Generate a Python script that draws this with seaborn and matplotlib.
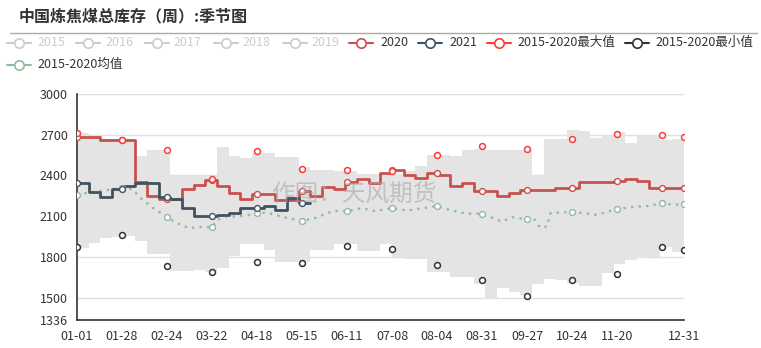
import numpy as np
import pandas as pd
import matplotlib
matplotlib.use("Agg")
import matplotlib.pyplot as plt
from matplotlib.lines import Line2D
import seaborn as sns

sns.set_theme(style="white")
plt.rcParams['font.family'] = ['Noto Sans CJK SC', 'DejaVu Sans']

# ---------------- data (weekly) ----------------
tick_days = [0, 27, 54, 81, 108, 135, 162, 189, 216, 243, 270, 297, 324, 364]
tick_labels = ["01-01", "01-28", "02-24", "03-22", "04-18", "05-15", "06-11",
               "07-08", "08-04", "08-31", "09-27", "10-24", "11-20", "12-31"]
marker_days = [0, 27, 54, 81, 108, 135, 162, 189, 216, 243, 270, 297, 324, 351, 364]

y2020 = [2680, 2680, 2663, 2663, 2663, 2355, 2252, 2228, 2228, 2299, 2331, 2368, 2320,
         2272, 2224, 2265, 2265, 2221, 2221, 2289, 2250, 2314, 2304, 2355, 2375, 2348,
         2415, 2441, 2400, 2380, 2418, 2404, 2326, 2348, 2285, 2287, 2252, 2274, 2294,
         2294, 2294, 2308, 2311, 2350, 2350, 2352, 2362, 2375, 2362, 2311, 2311, 2311]

y2021 = [2345, 2275, 2240, 2302, 2320, 2343, 2343, 2245, 2228, 2162, 2102, 2102, 2112,
         2125, 2164, 2164, 2172, 2147, 2233, 2195]

band_upper = [2712, 2690, 2672, 2672, 2672, 2541, 2590, 2590, 2395, 2395, 2395, 2395, 2607,
              2541, 2530, 2566, 2566, 2537, 2537, 2461, 2444, 2444, 2432, 2432, 2412, 2412,
              2412, 2412, 2432, 2468, 2554, 2554, 2541, 2590, 2597, 2590, 2590, 2590, 2590,
              2407, 2671, 2671, 2737, 2724, 2676, 2688, 2720, 2639, 2688, 2688, 2663, 2671]

band_lower = [1868, 1905, 1940, 1945, 1956, 1914, 1822, 1822, 1700, 1700, 1707, 1687, 1720,
              1810, 1895, 1895, 1851, 1761, 1761, 1761, 1851, 1851, 1895, 1895, 1846, 1846,
              1895, 1797, 1785, 1785, 1688, 1688, 1651, 1651, 1602, 1492, 1575, 1540, 1520,
              1600, 1635, 1630, 1610, 1590, 1590, 1685, 1745, 1780, 1795, 1800, 1877, 1840]

max_vals = [2712, 2663, 2590, 2371, 2578, 2449, 2439, 2432, 2549, 2615, 2598, 2671, 2707, 2695, 2680]
min_vals = [1871, 1963, 1737, 1688, 1766, 1754, 1883, 1859, 1741, 1634, 1512, 1632, 1673, 1873, 1849]

mean_days = [0, 7, 14, 20, 27, 33, 39, 45, 54, 59, 67, 75, 81, 84, 90, 97, 103, 108, 114,
             124, 135, 143, 154, 162, 171, 179, 189, 198, 208, 216, 224, 233, 243, 255, 261,
             270, 274, 278, 282, 284, 297, 304, 312, 324, 333, 343, 351, 358, 364]
mean_vals = [2256, 2275, 2285, 2295, 2310, 2300, 2225, 2165, 2095, 2055, 2012, 2022, 2018,
             2072, 2100, 2098, 2110, 2123, 2127, 2093, 2066, 2088, 2140, 2137, 2160, 2137,
             2160, 2142, 2160, 2176, 2145, 2120, 2118, 2061, 2093, 2078, 2085, 2015, 2025,
             2123, 2132, 2122, 2110, 2154, 2167, 2176, 2196, 2184, 2191]

# ---------------- styles ----------------
C2020 = "#c8504d"
C2021 = "#3f5262"
CMAX = "#ff3b3b"
CMIN = "#333333"
CMEAN = "#93ba9f"
CBAND = "#e4e4e4"
CINACT = "#cccccc"

W, H = 761, 348
fig = plt.figure(figsize=(W / 100, H / 100), dpi=100)
ax = fig.add_axes([77 / W, 1 - 320 / H, (683.7 - 77) / W, (320 - 94) / H])

def week_frame(vals):
    days = np.arange(len(vals) + 1) * 7
    v = list(vals) + [vals[-1]]
    return pd.DataFrame({"day": days, "value": v})

# band
bu = week_frame(band_upper)
bl = week_frame(band_lower)
ax.fill_between(bu["day"], bl["value"], bu["value"], step="post",
                color=CBAND, linewidth=0, zorder=1)

# grid
for yv in [1500, 1800, 2100, 2400, 2700, 3000]:
    ax.axhline(yv, color="#e0e0e0", linewidth=1, zorder=0.5)

# mean (dotted)
dm = pd.DataFrame({"day": mean_days, "value": mean_vals})
sns.lineplot(data=dm, x="day", y="value", ax=ax, color=CMEAN, linewidth=1.7,
             linestyle=(0, (1, 2.2)), zorder=3, sort=False)
dmm = dm[dm["day"].isin(marker_days)]
ax.scatter(dmm["day"], dmm["value"], s=18, facecolor="white", edgecolor=CMEAN,
           linewidth=1.0, zorder=6)

# 2020
d20 = week_frame(y2020)
sns.lineplot(data=d20, x="day", y="value", ax=ax, color=C2020, linewidth=2,
             drawstyle="steps-post", zorder=4, sort=False)
m20 = [y2020[min(d // 7, len(y2020) - 1)] for d in marker_days]
ax.scatter(marker_days, m20, s=18, facecolor="white", edgecolor=C2020,
           linewidth=1.0, zorder=7)

# 2021
d21 = week_frame(y2021)
sns.lineplot(data=d21, x="day", y="value", ax=ax, color=C2021, linewidth=2,
             drawstyle="steps-post", zorder=5, sort=False)
md21 = [d for d in marker_days if d < len(y2021) * 7]
m21 = [y2021[d // 7] for d in md21]
ax.scatter(md21, m21, s=18, facecolor="white", edgecolor=C2021, linewidth=1.0, zorder=8)

# max / min points
dmax = pd.DataFrame({"day": marker_days, "value": max_vals})
dmin = pd.DataFrame({"day": marker_days, "value": min_vals})
sns.scatterplot(data=dmax, x="day", y="value", ax=ax, s=18, facecolor="white",
                edgecolor=CMAX, linewidth=1.1, zorder=9)
sns.scatterplot(data=dmin, x="day", y="value", ax=ax, s=18, facecolor="white",
                edgecolor=CMIN, linewidth=1.1, zorder=9)

# axes
ax.set_xlim(0, 364)
ax.set_ylim(1336, 3000)
ax.set_xticks(tick_days)
ax.set_xticklabels(tick_labels)
ax.set_yticks([1336, 1500, 1800, 2100, 2400, 2700, 3000])
ax.set_yticklabels(["1336", "1500", "1800", "2100", "2400", "2700", "3000"])
ax.set_xlabel("")
ax.set_ylabel("")
for s in ["top", "right"]:
    ax.spines[s].set_visible(False)
for s in ["left", "bottom"]:
    ax.spines[s].set_color("#333333")
    ax.spines[s].set_linewidth(1.2)
ax.tick_params(axis="both", which="both", direction="out", length=4.5, width=1,
               color="#333333", labelsize=9, labelcolor="#333333", pad=2)
ax.tick_params(axis="x", pad=2.5)
ax.set_facecolor("none")

# watermark
ax.text((354 - 77) / 606.7, (320 - 194) / 226, "作图：天风期货", transform=ax.transAxes,
        ha="center", va="center", fontsize=17, color="#a8a8a8", alpha=0.6, zorder=10)

# title
fig.text(19 / W, 1 - 16.5 / H, "中国炼焦煤总库存（周）:季节图", fontsize=11.5,
         fontweight="bold", color="#333333", ha="left", va="center")
fig.add_artist(Line2D([10 / W, 757 / W], [1 - 32.5 / H, 1 - 32.5 / H],
                      transform=fig.transFigure, color="#aaaaaa", linewidth=1))

# legend
legend_items = [
    ("2015", 7, 37, 42.7, CINACT, CINACT),
    ("2016", 76, 105, 42.7, CINACT, CINACT),
    ("2017", 145, 173, 42.7, CINACT, CINACT),
    ("2018", 214, 242, 42.7, CINACT, CINACT),
    ("2019", 283, 311, 42.7, CINACT, CINACT),
    ("2020", 349, 380, 42.7, C2020, "#333333"),
    ("2021", 418, 449, 42.7, C2021, "#333333"),
    ("2015-2020最大值", 487, 517, 42.7, CMAX, "#333333"),
    ("2015-2020最小值", 625, 655, 42.7, CMIN, "#333333"),
    ("2015-2020均值", 7, 37, 64.5, CMEAN, "#333333"),
]
for label, ix, tx, ly, col, tcol in legend_items:
    yf = 1 - ly / H
    fig.add_artist(Line2D([ix / W, (ix + 24) / W], [yf, yf], transform=fig.transFigure,
                          color=col, linewidth=1.5))
    fig.add_artist(Line2D([(ix + 12) / W], [yf], transform=fig.transFigure,
                          marker="o", markersize=6.8, markerfacecolor="white",
                          markeredgecolor=col, markeredgewidth=1.2, linestyle="none"))
    fig.text(tx / W, yf, label, fontsize=9, color=tcol, ha="left", va="center")

fig.savefig("out.png", dpi=100)
